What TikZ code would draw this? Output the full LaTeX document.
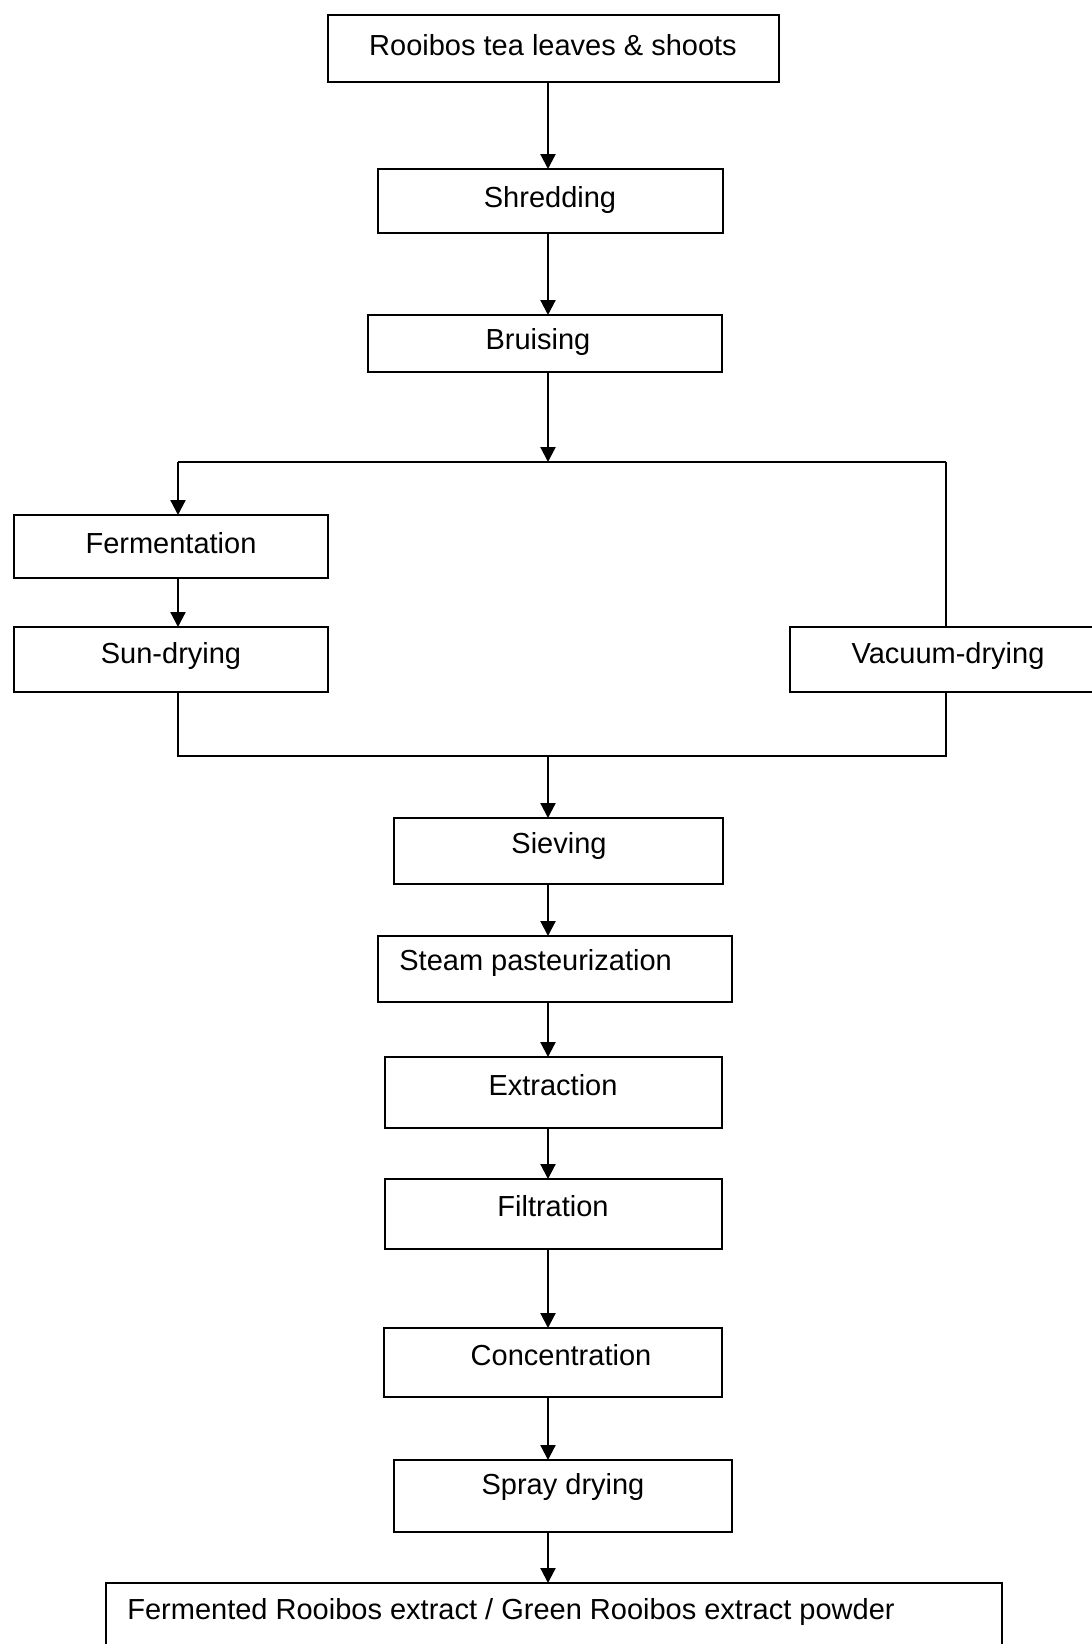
\documentclass[tikz,border=0pt]{standalone}
\usepackage{fontspec}
\setmainfont{Liberation Sans}
\usetikzlibrary{arrows.meta}
\tikzset{
  box/.style={draw, line width=1.1pt, rectangle, inner sep=0pt, outer sep=0pt},
  txt/.style={inner sep=0pt, font=\fontsize{14.5}{17}\selectfont, anchor=center},
  ltxt/.style={inner sep=0pt, font=\fontsize{14.5}{17}\selectfont, anchor=west},
  arr/.style={line width=1.1pt, -{Triangle[length=7.5pt,width=7.5pt]}},
  ln/.style={line width=1.1pt}
}
\newcommand\pbox[5]{\node[box, minimum width={(#4-#2)*0.5pt}, minimum height={(#5-#3)*0.5pt}] (#1) at ({(#2+#4)/2},{(#3+#5)/2}) {};}
\begin{document}
\begin{tikzpicture}[x=0.5pt,y=-0.5pt]
\useasboundingbox (0,0) rectangle (1092,1644);
\clip (0,0) rectangle (1092,1644);
% boxes
\pbox{top}{328}{15}{779}{82}
\pbox{shred}{378}{169}{723}{233}
\pbox{bruis}{368}{315}{722}{372}
\pbox{ferm}{14}{515}{328}{578}
\pbox{sun}{14}{627}{328}{692}
\pbox{vac}{790}{627}{1110}{692}
\pbox{sieve}{394}{818}{723}{884}
\pbox{steam}{378}{936}{732}{1002}
\pbox{extr}{385}{1057}{722}{1128}
\pbox{filt}{385}{1179}{722}{1249}
\pbox{conc}{384}{1328}{722}{1397}
\pbox{spray}{394}{1460}{732}{1532}
\pbox{final}{106}{1583}{1002}{1670}
% texts
\node[txt] (ttop) at (553,45) {Rooibos tea leaves \& shoots};
\node[txt] (tshred) at (550,200) {Shredding};
\node[txt] (tbruis) at (538,342) {Bruising};
\node[txt] (tferm) at (171,543) {Fermentation};
\node[txt] (tsun) at (171,656) {Sun-drying};
\node[txt] (tvac) at (948,656) {Vacuum-drying};
\node[txt] (tsieve) at (559,846) {Sieving};
\node[ltxt] (tsteam) at (399,963) {Steam pasteurization};
\node[txt] (textr) at (553,1085) {Extraction};
\node[txt] (tfilt) at (553,1206) {Filtration};
\node[txt] (tconc) at (561,1355) {Concentration};
\node[txt] (tspray) at (563,1487) {Spray drying};
\node[ltxt] (tfinal) at (127,1612) {Fermented Rooibos extract / Green Rooibos extract powder};
% junction coordinates
\coordinate (col) at (548,0);
\coordinate (split) at (548,462);
\coordinate (splitL) at (178,462);
\coordinate (splitR) at (946,462);
\coordinate (join) at (548,756);
\coordinate (joinL) at (178,756);
\coordinate (joinR) at (946,756);
% connectors
\draw[arr] (top.south -| col) -- (shred.north -| col);
\draw[arr] (shred.south -| col) -- (bruis.north -| col);
\draw[arr] (bruis.south -| col) -- (split);
\draw[ln] (splitL) -- (splitR);
\draw[arr] (splitL) -- (ferm.north -| splitL);
\draw[arr] (ferm.south -| splitL) -- (sun.north -| splitL);
\draw[ln] (splitR) -- (vac.north -| splitR);
\draw[ln] (sun.south -| joinL) -- (joinL) -- (joinR) -- (vac.south -| joinR);
\draw[arr] (join) -- (sieve.north -| col);
\draw[arr] (sieve.south -| col) -- (steam.north -| col);
\draw[arr] (steam.south -| col) -- (extr.north -| col);
\draw[arr] (extr.south -| col) -- (filt.north -| col);
\draw[arr] (filt.south -| col) -- (conc.north -| col);
\draw[arr] (conc.south -| col) -- (spray.north -| col);
\draw[arr] (spray.south -| col) -- (final.north -| col);
\end{tikzpicture}
\end{document}
